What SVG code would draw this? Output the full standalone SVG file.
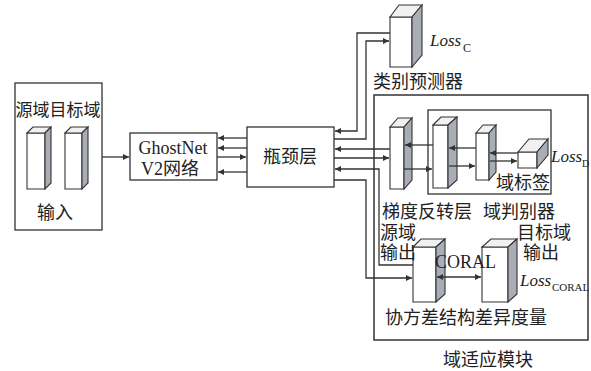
<svg xmlns="http://www.w3.org/2000/svg" width="591" height="371" viewBox="0 0 591 371">
<style>
.bx{fill:#fff;stroke:#333;stroke-width:1.3}
.fr{fill:#fff;stroke:#333;stroke-width:1.1}
.tp{fill:#f1f1f1;stroke:#333;stroke-width:1.1}
.sd{fill:#a8adb6;stroke:#333;stroke-width:1.1}
.ln{fill:none;stroke:#333;stroke-width:1.3}
.cn{font-family:"Liberation Serif","Noto Sans CJK SC",serif;font-size:18px;fill:#222}
.it{font-family:"Liberation Serif",serif;font-style:italic;font-size:17px;fill:#222}
.sb{font-family:"Liberation Serif",serif;font-size:11px;fill:#222}
</style>
<defs>
<marker id="ar" markerUnits="userSpaceOnUse" markerWidth="7" markerHeight="6" refX="6" refY="3" orient="auto-start-reverse">
<path d="M0,0 L6,3 L0,6 z" fill="#333"/>
</marker>
</defs>
<rect width="591" height="371" fill="#fff"/>

<g id="input">
<rect class="bx" x="15" y="83" width="87" height="147"/>
<text class="cn" x="58" y="116" text-anchor="middle" style="font-size:17px">源域目标域</text>
<polygon class="fr" points="27,133 45,133 45,189 27,189"/>
<polygon class="tp" points="27,133 33,127 51,127 45,133"/>
<polygon class="sd" points="45,133 51,127 51,183 45,189"/>
<polygon class="fr" points="65,133 82,133 82,189 65,189"/>
<polygon class="tp" points="65,133 71,127 88,127 82,133"/>
<polygon class="sd" points="82,133 88,127 88,183 82,189"/>
<text class="cn" x="55" y="219" text-anchor="middle">输入</text>
</g>

<g id="ghostnet">
<rect class="bx" x="130" y="133" width="87" height="47"/>
<text class="cn" x="173" y="154" text-anchor="middle">GhostNet</text>
<text class="cn" x="170" y="175" text-anchor="middle">V2网络</text>
</g>

<g id="bottleneck">
<rect class="bx" x="247" y="127" width="87" height="60"/>
<text class="cn" x="290" y="163" text-anchor="middle">瓶颈层</text>
</g>

<g id="class-predictor">
<polygon class="fr" points="390,17 412,17 412,67 390,67"/>
<polygon class="tp" points="390,17 399,5 422,5 412,17"/>
<polygon class="sd" points="412,17 422,5 422,55 412,67"/>
<text class="it" x="430" y="46">Loss</text>
<text class="sb" x="463" y="52" style="font-size:12px">C</text>
<text class="cn" x="373" y="88">类别预测器</text>
</g>

<g id="domain-adaptation">
<rect class="ln" x="374" y="95" width="214" height="245" style="stroke-width:1.5"/>
<text class="cn" x="443" y="366">域适应模块</text>
</g>

<g id="grl">
<polygon class="fr" points="390,127 404,127 404,189 390,189"/>
<polygon class="tp" points="390,127 398,118 412,118 404,127"/>
<polygon class="sd" points="404,127 412,118 412,180 404,189"/>
<text class="cn" x="382" y="218">梯度反转层</text>
</g>

<g id="discriminator">
<rect class="ln" x="428" y="110" width="123" height="84"/>
<polygon class="fr" points="433,125 448,125 448,188 433,188"/>
<polygon class="tp" points="433,125 441,117 457,117 448,125"/>
<polygon class="sd" points="448,125 457,117 457,180 448,188"/>
<polygon class="fr" points="476,133 489,133 489,180 476,180"/>
<polygon class="tp" points="476,133 483,125 496,125 489,133"/>
<polygon class="sd" points="489,133 496,125 496,172 489,180"/>
<polygon class="fr" points="518,152 537,152 537,168 518,168"/>
<polygon class="tp" points="518,152 529,139 548,139 537,152"/>
<polygon class="sd" points="537,152 548,139 548,155 537,168"/>
<text class="cn" x="496" y="189">域标签</text>
<text class="cn" x="483" y="218">域判别器</text>
<text class="it" x="551" y="162">Loss</text>
<text class="sb" x="582" y="167" style="font-size:10px">D</text>
</g>

<g id="coral">
<polygon class="fr" points="413,247 436,247 436,302 413,302"/>
<polygon class="tp" points="413,247 421,239 445,239 436,247"/>
<polygon class="sd" points="436,247 445,239 445,294 436,302"/>
<polygon class="fr" points="482,247 508,247 508,302 482,302"/>
<polygon class="tp" points="482,247 491,239 517,239 508,247"/>
<polygon class="sd" points="508,247 517,239 517,294 508,302"/>
<text class="cn" x="380" y="239">源域</text>
<text class="cn" x="380" y="259">输出</text>
<text class="cn" x="517" y="239">目标域</text>
<text class="cn" x="523" y="259">输出</text>
<text class="cn" x="435" y="268">CORAL</text>
<text class="it" x="520" y="286">Loss</text>
<text class="sb" x="552" y="291">CORAL</text>
<text class="cn" x="385" y="324">协方差结构差异度量</text>
</g>

<g id="connectors">
<path class="ln" d="M102,157 H129" marker-end="url(#ar)"/>
<path class="ln" d="M218,138 H247" marker-start="url(#ar)"/>
<path class="ln" d="M218,148 H247" marker-start="url(#ar)"/>
<path class="ln" d="M217,157 H246" marker-end="url(#ar)"/>
<path class="ln" d="M218,172 H247" marker-start="url(#ar)"/>
<path class="ln" d="M335,131 H357 V33 H390" marker-start="url(#ar)"/>
<path class="ln" d="M334,139 H366 V41 H389" marker-end="url(#ar)"/>
<path class="ln" d="M335,149 H390" marker-start="url(#ar)"/>
<path class="ln" d="M334,158 H389" marker-end="url(#ar)"/>
<path class="ln" d="M335,169 H379 V265 H413" marker-start="url(#ar)"/>
<path class="ln" d="M334,180 H366 V278 H412" marker-end="url(#ar)"/>
<path class="ln" d="M405,145 H433" marker-start="url(#ar)"/>
<path class="ln" d="M404,169 H432" marker-end="url(#ar)"/>
<path class="ln" d="M449,148 H476" marker-start="url(#ar)"/>
<path class="ln" d="M449,166 H475" marker-end="url(#ar)"/>
<path class="ln" d="M490,153 H518" marker-start="url(#ar)"/>
<path class="ln" d="M490,161 H517" marker-end="url(#ar)"/>
<path class="ln" d="M437,277 H481" marker-start="url(#ar)" marker-end="url(#ar)"/>
</g>
</svg>
